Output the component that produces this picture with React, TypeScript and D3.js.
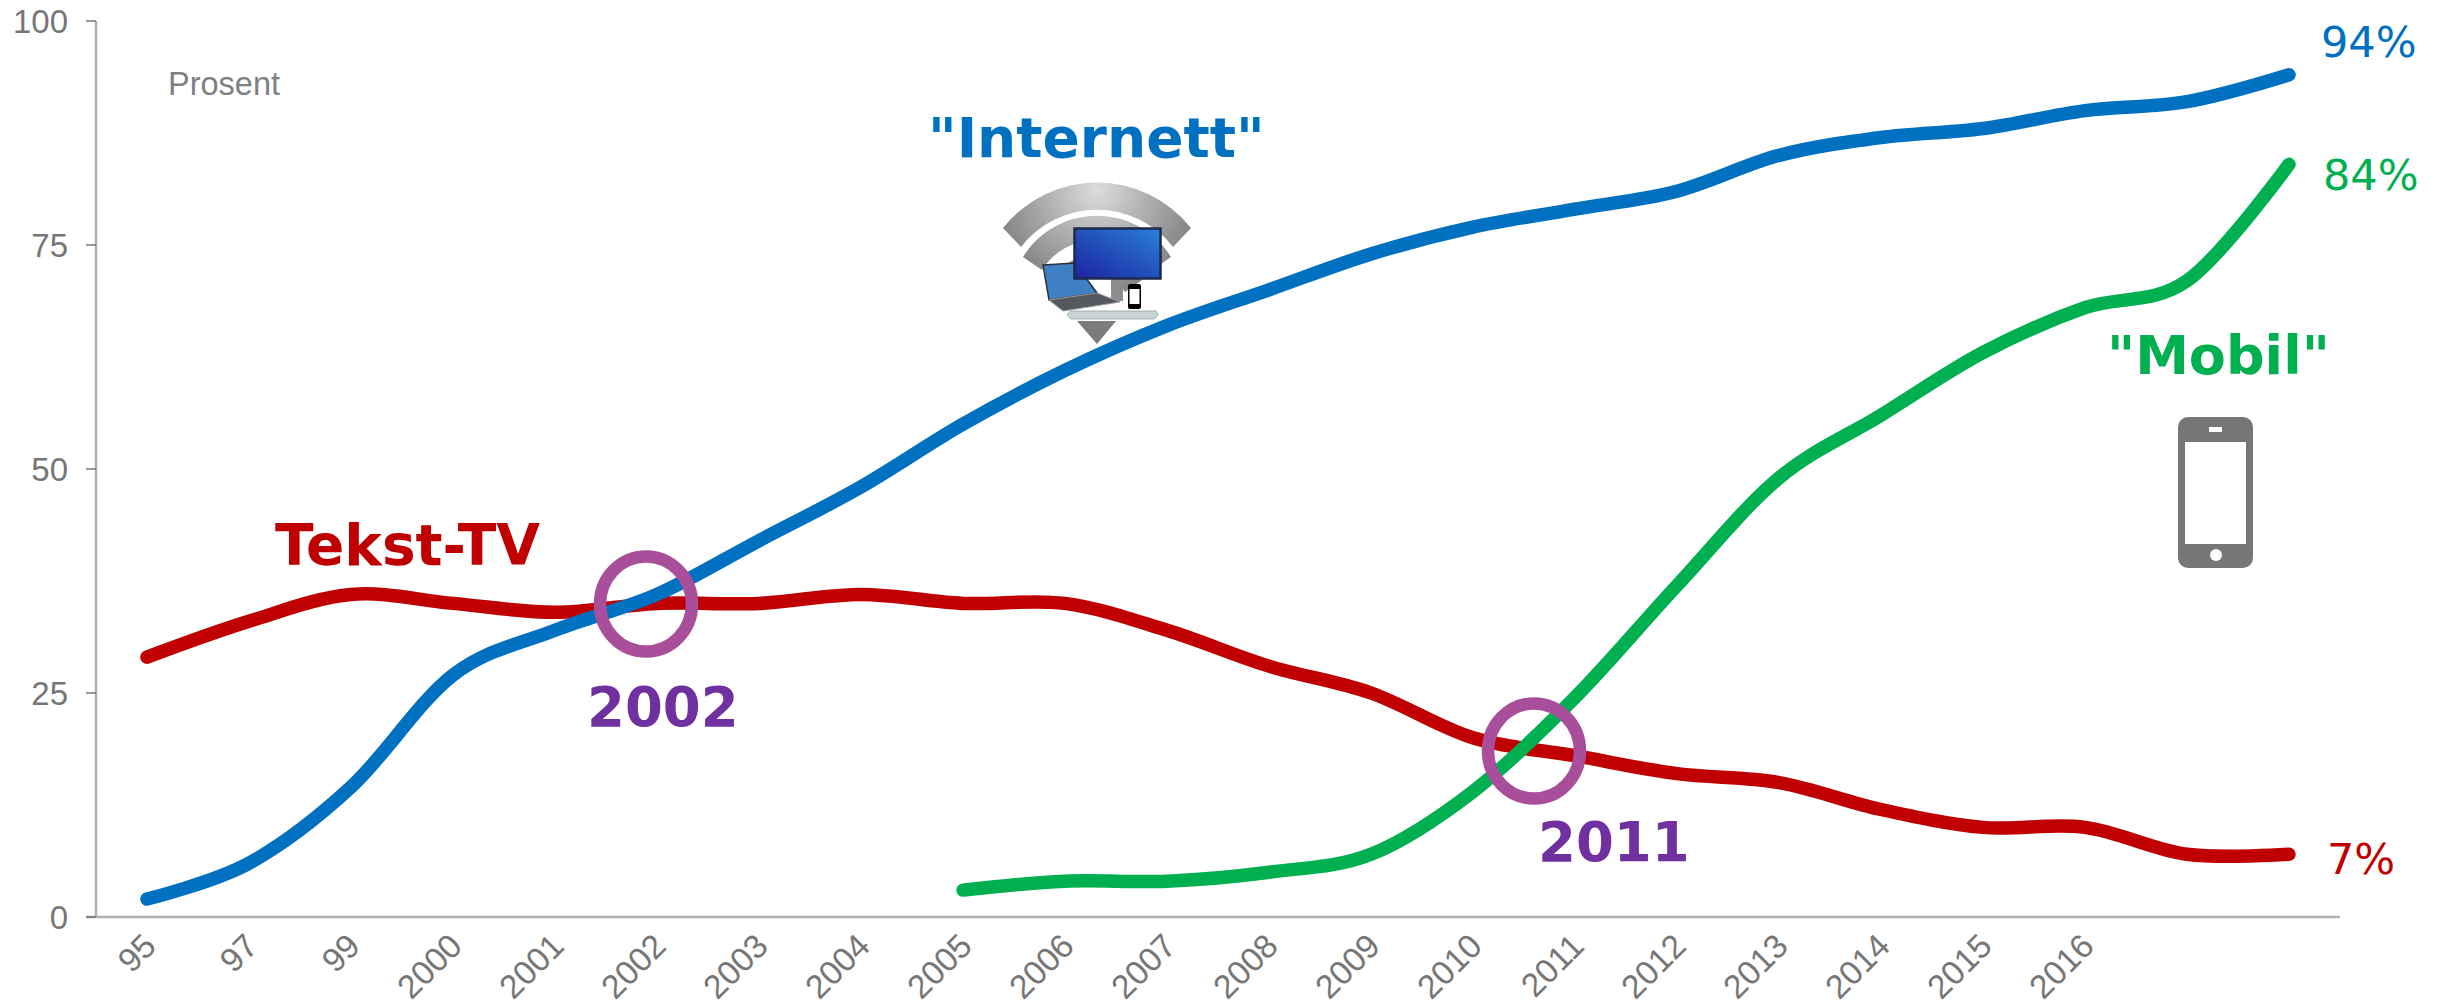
import React from "react";
import * as d3 from "d3";

const categories = ["95","97","99","2000","2001","2002","2003","2004","2005","2006","2007","2008","2009","2010","2011","2012","2013","2014","2015","2016","a","b"];
const hiddenCategories = ["a","b"];
const tekstTV = [29,33,36,35,34,35,35,36,35,35,32,28,25,20,18,16,15,12,10,10,7,7];
const internett = [2,6,14.5,27,32,36,42,48,55,61,66,70,74,77,79,81,85,87,88,90,91,94];
const mobil = [null,null,null,null,null,null,null,null,3,4,4,5,7,14,24.5,37,49,56,63,68,71,84];
const yTicks = [0,25,50,75,100];

const W = 2438, H = 1008;
const BLUE = "#0070C0", RED = "#C00000", GREEN = "#00B050", PURPLE = "#7030A0", RING = "#A94E9B", GREY = "#767676", AXIS = "#B0B0B0";
const x = d3.scaleBand<string>().domain(categories).range([96, 2340]);
const y = d3.scaleLinear().domain([0, 100]).range([917, 21]);
const cx = (i: number) => (x(categories[i]) as number) + x.bandwidth() / 2;
const line = d3.line<number | null>()
  .defined((d) => d !== null)
  .x((_, i) => cx(i))
  .y((d) => y(d as number))
  .curve(d3.curveCardinal.tension(0));

const bold = "'DejaVu Sans'";

function WifiIcon() {
  return (
    <g>
      <g fill="url(#wifi)">
        <path d="M1003,228A120,120 0 0 1 1191,228L1173,247A96,96 0 0 0 1021,247Z" />
        <path d="M1023,257A87,87 0 0 1 1171,257L1152,270A65,65 0 0 0 1042,270Z" />
        <path d="M1052,280A52,52 0 0 1 1142,280L1125,292A32,32 0 0 0 1069,292Z" />
      </g>
      <path d="M1077,321L1116,321L1097,344Z" fill="#7c7c7c" />
      <rect x={1111} y={279} width={12} height={22} fill="#8c8c8c" />
      <path d="M1043,265L1075,263L1097,293L1049,300Z" fill="#3f7fc4" stroke="#2a2f3a" strokeWidth={1.5} />
      <path d="M1049,300L1097,293L1120,302L1063,311Z" fill="#55585e" stroke="#9a9a9a" strokeWidth={1} />
      <rect x={1074.5} y={228.5} width={86} height={50} fill="url(#screen)" stroke="#1c2a4c" strokeWidth={2.5} />
      <rect x={1128} y={284} width={13} height={25} rx={2} fill="#000" />
      <rect x={1129.5} y={289} width={10} height={15} fill="#fff" />
      <path d="M1067,315L1070,311L1156,311L1158,315L1154,319L1071,319Z" fill="#c9d6d6" stroke="#8fa0a0" strokeWidth={0.8} />
    </g>
  );
}

function PhoneIcon() {
  return (
    <g>
      <rect x={2178} y={417} width={75} height={151} rx={10} fill={GREY} />
      <rect x={2185} y={442} width={61} height={102} fill="#fff" />
      <rect x={2209} y={427} width={13} height={5} fill="#fff" />
      <circle cx={2216} cy={555} r={6} fill="#fff" />
    </g>
  );
}

export default function App() {
  return (
    <svg width={W} height={H} viewBox={`0 0 ${W} ${H}`} style={{ position: "fixed", left: 0, top: 0, display: "block", background: "#fff" }}>
      <defs>
        <radialGradient id="wifi" gradientUnits="userSpaceOnUse" cx={1097} cy={190} r={110}>
          <stop offset="0" stopColor="#dcdcdc" />
          <stop offset="1" stopColor="#7d7d7d" />
        </radialGradient>
        <linearGradient id="screen" x1="0" y1="1" x2="1" y2="0">
          <stop offset="0" stopColor="#1c22a0" />
          <stop offset="1" stopColor="#2a80d8" />
        </linearGradient>
      </defs>

      <line x1={96} x2={96} y1={y(100)} y2={y(0)} stroke={AXIS} strokeWidth={2.5} />
      <line x1={86} x2={2340} y1={y(0)} y2={y(0)} stroke={AXIS} strokeWidth={2.5} />
      {yTicks.map((t) => (
        <g key={t}>
          <line x1={86} x2={96} y1={y(t)} y2={y(t)} stroke={GREY} strokeWidth={1.5} />
          <text x={68} y={y(t) + 11.5} textAnchor="end" fontFamily="'Liberation Sans'" fontSize={33} fill={GREY}>{t}</text>
        </g>
      ))}
      {categories.filter((c) => !hiddenCategories.includes(c)).map((c) => (
        <text key={c} textAnchor="end" fontFamily="'Liberation Sans'" fontSize={33.5} fill={GREY}
          transform={`translate(${(x(c) as number) + x.bandwidth() / 2 + 11},${948}) rotate(-45)`}>{c}</text>
      ))}
      <text x={168} y={95} fontFamily="'Liberation Sans'" fontSize={32.5} fill="#808080">Prosent</text>

      <WifiIcon />
      <PhoneIcon />

      <path d={line(tekstTV) as string} fill="none" stroke={RED} strokeWidth={13.5} strokeLinecap="round" />
      <path d={line(internett) as string} fill="none" stroke={BLUE} strokeWidth={13.5} strokeLinecap="round" />
      <path d={line(mobil) as string} fill="none" stroke={GREEN} strokeWidth={13.5} strokeLinecap="round" />

      <ellipse cx={646} cy={604} rx={46} ry={47.5} fill="none" stroke={RING} strokeWidth={12.5} />
      <ellipse cx={1534} cy={751} rx={46} ry={47.5} fill="none" stroke={RING} strokeWidth={12.5} />

      <g fontFamily={bold} fontWeight="bold" stroke="none">
        <text x={928} y={157} fill={BLUE} fontSize={55}>"Internett"</text>
        <text x={2107} y={374} fill={GREEN} fontSize={54}>"Mobil"</text>
        <text x={275} y={565} fill={RED} fontSize={56.5}>Tekst-TV</text>
        <text x={587} y={726} fill={PURPLE} fontSize={54.5}>2002</text>
        <text x={1538} y={861} fill={PURPLE} fontSize={54.5}>2011</text>
      </g>
      <g fontFamily="'DejaVu Sans'" fontSize={43}>
        <text x={2321} y={57} fill={BLUE}>94%</text>
        <text x={2323} y={190} fill={GREEN}>84%</text>
        <text x={2327} y={874} fill={RED}>7%</text>
      </g>
    </svg>
  );
}
